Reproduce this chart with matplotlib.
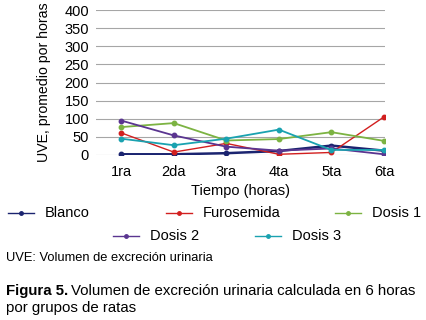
import matplotlib
matplotlib.use("Agg")
import matplotlib.pyplot as plt
from matplotlib.lines import Line2D

plt.rcParams['font.family'] = ['Liberation Sans', 'DejaVu Sans']

categories = ["1ra", "2da", "3ra", "4ta", "5ta", "6ta"]
blanco = [2, 2, 5, 11, 26, 12]
furosemida = [61, 8, 32, 2, 7, 105]
dosis1 = [77, 88, 40, 44, 63, 39]
dosis2 = [95, 54, 23, 12, 18, 2]
dosis3 = [45, 27, 45, 70, 14, 14]
yticks = [0, 50, 100, 150, 200, 250, 300, 350, 400]

series = [
    ("Blanco", blanco, "#1b2470", 1.8),
    ("Furosemida", furosemida, "#d21f1f", 1.0),
    ("Dosis 1", dosis1, "#7cb342", 1.3),
    ("Dosis 2", dosis2, "#5a3590", 1.3),
    ("Dosis 3", dosis3, "#1aa2b0", 1.3),
]

fig = plt.figure(figsize=(4.27, 3.2), dpi=100)
ax = fig.add_axes([96/427, 1-155/320, (385-96)/427, (155-10)/320])
x = list(range(len(categories)))
handles = {}
for name, vals, col, lw in series:
    ln, = ax.plot(x, vals, color=col, lw=lw, marker='o', ms=3.2, zorder=3)
    handles[name] = ln

ax.set_ylim(0, 400)
ax.set_xlim(-0.48, 5.02)
ax.set_yticks(yticks)
ax.set_xticks(x)
ax.set_xticklabels(categories)
ax.grid(axis='y', color='#a6a6a6', lw=0.8)
ax.set_axisbelow(True)
for s in ax.spines.values():
    s.set_visible(False)
ax.tick_params(axis='y', length=0, labelsize=10.5, pad=5)
ax.tick_params(axis='x', length=0, labelsize=10.5, pad=7)
ax.set_ylabel("UVE, promedio por horas", fontsize=10.2, labelpad=10)
ax.set_xlabel("Tiempo (horas)", fontsize=10.5, labelpad=4)

# legend (manual layout to mimic centered rows)
entries = [("Blanco", 8, 213), ("Furosemida", 166, 213), ("Dosis 1", 335, 213),
           ("Dosis 2", 113, 236), ("Dosis 3", 255, 236)]
for name, px, py in entries:
    ln = handles[name]
    yy = 1 - py/320
    fig.add_artist(Line2D([px/427, (px+26)/427], [yy, yy], transform=fig.transFigure,
                          color=ln.get_color(), lw=1.0))
    fig.add_artist(Line2D([(px+13)/427], [yy], transform=fig.transFigure,
                          color=ln.get_color(), marker='o', ms=2.5))
    fig.text((px+37)/427, yy, name, fontsize=10.5, va='center', ha='left')

fig.text(6/427, 1-258/320, "UVE: Volumen de excreción urinaria", fontsize=9.3, va='center', ha='left')

# caption: bold prefix followed by regular text
cap_fs = 10.8
t1 = fig.text(6/427, 1-291/320, "Figura 5.", fontsize=cap_fs, va='center', ha='left', weight='bold')
fig.canvas.draw()
bb = t1.get_window_extent()
fig.text((bb.x1 + 3)/427, 1-291/320, "Volumen de excreción urinaria calculada en 6 horas",
         fontsize=cap_fs, va='center', ha='left')
fig.text(6/427, 1-308/320, "por grupos de ratas", fontsize=cap_fs, va='center', ha='left')
fig.savefig("out.png", dpi=100)
